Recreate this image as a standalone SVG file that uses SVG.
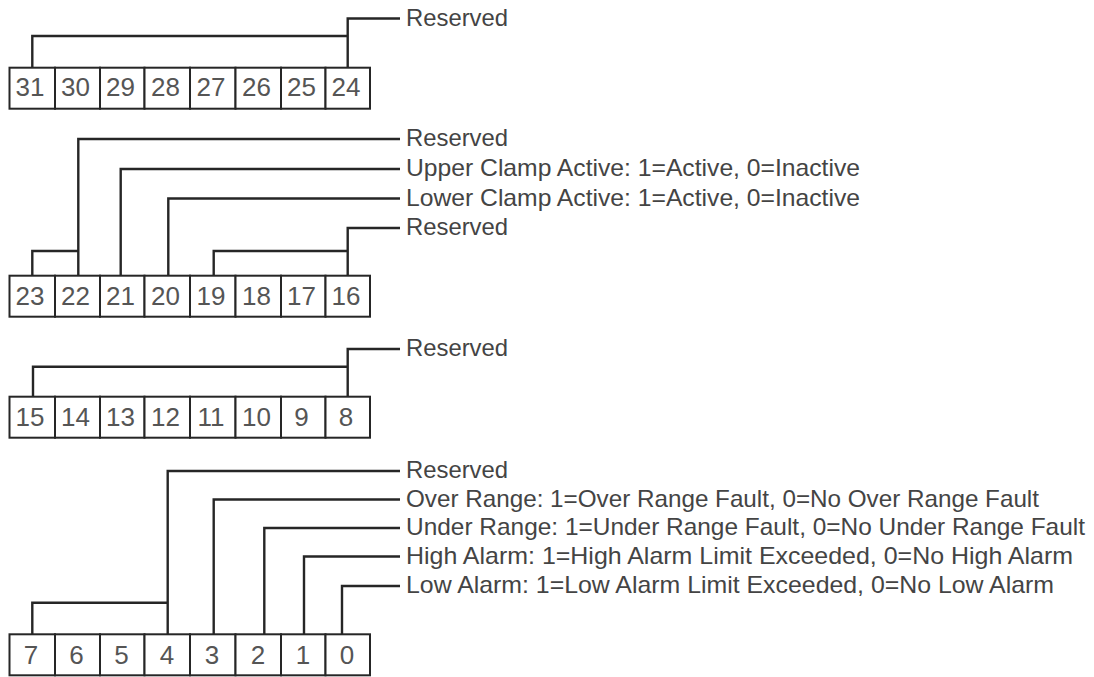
<svg xmlns="http://www.w3.org/2000/svg" width="1094" height="677" viewBox="0 0 1094 677">
<style>
.cell{fill:#fff;stroke:#262626;stroke-width:2}
.num{font-family:"Liberation Sans",Arial,sans-serif;font-size:26px;fill:#555;text-anchor:middle}
.lbl{font-family:"Liberation Sans",Arial,sans-serif;font-size:24px;fill:#444}
.wire{fill:none;stroke:#262626;stroke-width:2.4;stroke-linejoin:miter;stroke-linecap:butt}
</style>
<rect width="1094" height="677" fill="#fff"/>
<defs>
<g id="row">
<rect class="cell" x="9.5" y="0" width="45.5" height="41"/>
<rect class="cell" x="55" y="0" width="45" height="41"/>
<rect class="cell" x="100" y="0" width="44.5" height="41"/>
<rect class="cell" x="144.5" y="0" width="45.5" height="41"/>
<rect class="cell" x="190" y="0" width="45.5" height="41"/>
<rect class="cell" x="235.5" y="0" width="45.5" height="41"/>
<rect class="cell" x="281" y="0" width="44.5" height="41"/>
<rect class="cell" x="325.5" y="0" width="44.5" height="41"/>
</g>
</defs>

<g id="connectors">
<!-- group 1 -->
<path class="wire" d="M32.3 67.7V36H347.7"/>
<path class="wire" d="M347.7 67.7V18.5H400"/>
<!-- group 2 -->
<path class="wire" d="M32.3 275.7V251H78.3"/>
<path class="wire" d="M78.3 275.7V139H400"/>
<path class="wire" d="M120.7 275.7V169H400"/>
<path class="wire" d="M168.3 275.7V198.5H400"/>
<path class="wire" d="M213.7 275.7V251H347.7"/>
<path class="wire" d="M347.7 275.7V228H400"/>
<!-- group 3 -->
<path class="wire" d="M33 396.7V366.7H347.7"/>
<path class="wire" d="M347.7 396.7V349H400"/>
<!-- group 4 -->
<path class="wire" d="M32.3 634.3V602.7H167.7"/>
<path class="wire" d="M167.7 634.3V471H400"/>
<path class="wire" d="M213.7 634.3V499.5H400"/>
<path class="wire" d="M264.3 634.3V528H400"/>
<path class="wire" d="M304 634.3V556.5H400"/>
<path class="wire" d="M342 634.3V586H400"/>
</g>

<g id="reg-31-24">
<use href="#row" y="67.7"/>
<g id="bit31"><text class="num" x="30" y="95.5">31</text></g>
<g id="bit30"><text class="num" x="75.5" y="95.5">30</text></g>
<g id="bit29"><text class="num" x="120.5" y="95.5">29</text></g>
<g id="bit28"><text class="num" x="165.5" y="95.5">28</text></g>
<g id="bit27"><text class="num" x="211" y="95.5">27</text></g>
<g id="bit26"><text class="num" x="256.5" y="95.5">26</text></g>
<g id="bit25"><text class="num" x="301.5" y="95.5">25</text></g>
<g id="bit24"><text class="num" x="346" y="95.5">24</text></g>
</g>

<g id="reg-23-16">
<use href="#row" y="275.7"/>
<g id="bit23"><text class="num" x="30" y="305">23</text></g>
<g id="bit22"><text class="num" x="75.5" y="305">22</text></g>
<g id="bit21"><text class="num" x="120.5" y="305">21</text></g>
<g id="bit20"><text class="num" x="165.5" y="305">20</text></g>
<g id="bit19"><text class="num" x="211" y="305">19</text></g>
<g id="bit18"><text class="num" x="256.5" y="305">18</text></g>
<g id="bit17"><text class="num" x="301.5" y="305">17</text></g>
<g id="bit16"><text class="num" x="346" y="305">16</text></g>
</g>

<g id="reg-15-8">
<use href="#row" y="396.7"/>
<g id="bit15"><text class="num" x="30" y="426">15</text></g>
<g id="bit14"><text class="num" x="75.5" y="426">14</text></g>
<g id="bit13"><text class="num" x="120.5" y="426">13</text></g>
<g id="bit12"><text class="num" x="165.5" y="426">12</text></g>
<g id="bit11"><text class="num" x="211" y="426">11</text></g>
<g id="bit10"><text class="num" x="256.5" y="426">10</text></g>
<g id="bit9"><text class="num" x="301.5" y="426">9</text></g>
<g id="bit8"><text class="num" x="346" y="426">8</text></g>
</g>

<g id="reg-7-0">
<use href="#row" y="634.3"/>
<g id="bit7"><text class="num" x="31" y="664">7</text></g>
<g id="bit6"><text class="num" x="76.5" y="664">6</text></g>
<g id="bit5"><text class="num" x="121.5" y="664">5</text></g>
<g id="bit4"><text class="num" x="167" y="664">4</text></g>
<g id="bit3"><text class="num" x="212" y="664">3</text></g>
<g id="bit2"><text class="num" x="258" y="664">2</text></g>
<g id="bit1"><text class="num" x="303" y="664">1</text></g>
<g id="bit0"><text class="num" x="347" y="664">0</text></g>
</g>

<g id="label-reserved-1"><text class="lbl" x="406" y="25.5" textLength="102" lengthAdjust="spacingAndGlyphs">Reserved</text></g>
<g id="label-reserved-2"><text class="lbl" x="406" y="146" textLength="102" lengthAdjust="spacingAndGlyphs">Reserved</text></g>
<g id="label-upper-clamp"><text class="lbl" x="406" y="176" textLength="454" lengthAdjust="spacingAndGlyphs">Upper Clamp Active: 1=Active, 0=Inactive</text></g>
<g id="label-lower-clamp"><text class="lbl" x="406" y="205.5" textLength="454" lengthAdjust="spacingAndGlyphs">Lower Clamp Active: 1=Active, 0=Inactive</text></g>
<g id="label-reserved-3"><text class="lbl" x="406" y="235" textLength="102" lengthAdjust="spacingAndGlyphs">Reserved</text></g>
<g id="label-reserved-4"><text class="lbl" x="406" y="356" textLength="102" lengthAdjust="spacingAndGlyphs">Reserved</text></g>
<g id="label-reserved-5"><text class="lbl" x="406" y="478" textLength="102" lengthAdjust="spacingAndGlyphs">Reserved</text></g>
<g id="label-over-range"><text class="lbl" x="406" y="506.5" textLength="633" lengthAdjust="spacingAndGlyphs">Over Range: 1=Over Range Fault, 0=No Over Range Fault</text></g>
<g id="label-under-range"><text class="lbl" x="406" y="535" textLength="679" lengthAdjust="spacingAndGlyphs">Under Range: 1=Under Range Fault, 0=No Under Range Fault</text></g>
<g id="label-high-alarm"><text class="lbl" x="406" y="563.5" textLength="667" lengthAdjust="spacingAndGlyphs">High Alarm: 1=High Alarm Limit Exceeded, 0=No High Alarm</text></g>
<g id="label-low-alarm"><text class="lbl" x="406" y="593" textLength="648" lengthAdjust="spacingAndGlyphs">Low Alarm: 1=Low Alarm Limit Exceeded, 0=No Low Alarm</text></g>
</svg>
